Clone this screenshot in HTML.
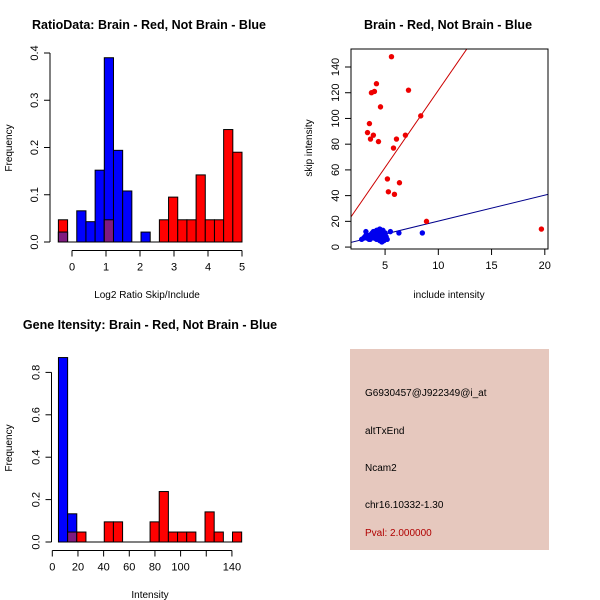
<!DOCTYPE html>
<html><head><meta charset="utf-8"><style>
body{margin:0;background:#fff}
svg{display:block;font-family:"Liberation Sans",Arial,sans-serif}
</style></head><body>
<svg id="s" width="600" height="600" xmlns="http://www.w3.org/2000/svg">
<rect width="600" height="600" fill="#fff"/>
<text x="149" y="29" text-anchor="middle" font-size="12.5" font-weight="bold">RatioData: Brain - Red, Not Brain - Blue</text>
<text x="448" y="29" text-anchor="middle" font-size="12.5" font-weight="bold">Brain - Red, Not Brain - Blue</text>
<text x="150" y="329" text-anchor="middle" font-size="12.5" font-weight="bold">Gene Itensity: Brain - Red, Not Brain - Blue</text>
<text x="147" y="298" text-anchor="middle" font-size="10">Log2 Ratio Skip/Include</text>
<text x="449" y="298" text-anchor="middle" font-size="10">include intensity</text>
<text x="150" y="598" text-anchor="middle" font-size="10">Intensity</text>
<text transform="translate(12,148) rotate(-90)" text-anchor="middle" font-size="10">Frequency</text>
<text transform="translate(312,148) rotate(-90)" text-anchor="middle" font-size="10">skip intensity</text>
<text transform="translate(12,448) rotate(-90)" text-anchor="middle" font-size="10">Frequency</text>
<g>
<rect x="350" y="349" width="199" height="201" fill="#e6c8be"/>
<text x="365" y="396" font-size="10">G6930457@J922349@i_at</text>
<text x="365" y="434" font-size="10">altTxEnd</text>
<text x="365" y="471" font-size="10">Ncam2</text>
<text x="365" y="508" font-size="10">chr16.10332-1.30</text>
<text x="365" y="536" font-size="10" fill="#b00000">Pval: 2.000000</text>
</g>
</svg>
<script>
// ratio histogram
const ratioBinStart=-0.4, ratioBinWidth=0.27;
const ratioRed=[0.047,0,0,0,0,0.047,0,0,0,0,0,0.047,0.095,0.047,0.047,0.142,0.047,0.047,0.238,0.19];
const ratioBlue=[0.021,0,0.066,0.043,0.152,0.39,0.194,0.108,0,0.021,0,0,0,0,0,0,0,0,0,0];
const ratioXTicks=[0,1,2,3,4,5];
const ratioYTicks=[0,0.1,0.2,0.3,0.4];
// intensity histogram
const intBinStart=4.8, intBinWidth=7.14;
const intRed=[0,0.047,0.047,0,0,0.095,0.095,0,0,0,0.095,0.238,0.047,0.047,0.047,0,0.142,0.047,0,0.047];
const intBlue=[0.87,0.133,0,0,0,0,0,0,0,0,0,0,0,0,0,0,0,0,0,0];
const intXTicks=[0,20,40,60,80,100,120,140];
const intXLabels=["0","20","40","60","80","100","","140"];
const intYTicks=[0,0.2,0.4,0.6,0.8];
// scatter
const redX=[5.6,4.19,3.72,4.0,4.57,7.2,3.53,8.35,3.35,3.9,3.63,4.38,6.07,6.91,5.79,5.22,6.35,5.31,5.88,8.89,19.68];
const redY=[148,127,120,121,109,122,96,102,89,87,84,82,84,87,77,53,50,43,41,20,14];
const blueX=[2.8,3.0,3.1,3.2,3.3,3.4,3.5,3.6,3.7,3.8,3.9,4.0,4.1,4.2,4.3,4.4,4.5,4.6,4.7,4.8,4.9,5.0,5.1,5.2,3.3,3.6,3.9,4.2,4.5,4.8,5.0,4.4,4.6,4.0,3.5,3.2,5.5,6.3,8.5,4.7,4.3,3.8];
const blueY=[6,7,8,12,7,9,8,6,10,11,8,9,12,13,10,8,14,12,7,9,5,11,8,6,9,7,12,6,5,13,10,11,8,7,6,9,12,11,11,4,13,10];
const scXTicks=[5,10,15,20];
const scYTicks=[0,20,40,60,80,100,120,140];
const redFit=[1.9,12.0], blueFit=[0.0,2.02];

const S=document.getElementById('s'),NS='http://www.w3.org/2000/svg';
function mk(t,a,p){const e=document.createElementNS(NS,t);for(const k in a)e.setAttribute(k,a[k]);(p||S).appendChild(e);return e;}

function hist(name,bs,bw,red,blue,sx,sy,xt,xl,yt,y0,xAxisY,yAxisX){
  const g=mk('g',{});
  
  
  for(let i=0;i<red.length;i++){
    const x1=sx(bs+i*bw),x2=sx(bs+(i+1)*bw);
    const r=red[i],b=blue[i],m=Math.min(r,b);
    if(r>0){const e=mk('rect',{x:x1,y:sy(r),width:x2-x1,height:sy(0)-sy(r),fill:'#ff0000',stroke:'#000','stroke-width':1},g);
      }
    if(b>0){const e=mk('rect',{x:x1,y:sy(b),width:x2-x1,height:sy(0)-sy(b),fill:'#0000ff',stroke:'#000','stroke-width':1},g);
      }
    if(m>0){const e=mk('rect',{x:x1,y:sy(m),width:x2-x1,height:sy(0)-sy(m),fill:'#7f1a80',stroke:'#000','stroke-width':1},g);
      }
  }
  mk('line',{x1:sx(bs),x2:sx(bs+red.length*bw),y1:sy(0),y2:sy(0),stroke:'#000'},g);
  mk('line',{x1:sx(xt[0]),x2:sx(xt[xt.length-1]),y1:xAxisY,y2:xAxisY,stroke:'#000'},g);
  xt.forEach((v,i)=>{mk('line',{x1:sx(v),x2:sx(v),y1:xAxisY,y2:xAxisY+6,stroke:'#000'},g);
    const t=mk('text',{x:sx(v),y:xAxisY+20,'text-anchor':'middle','font-size':11},g);t.textContent=xl[i];
    });
  mk('line',{x1:yAxisX,x2:yAxisX,y1:sy(yt[0]),y2:sy(yt[yt.length-1]),stroke:'#000'},g);
  yt.forEach(v=>{mk('line',{x1:yAxisX,x2:yAxisX-6,y1:sy(v),y2:sy(v),stroke:'#000'},g);
    const t=mk('text',{transform:`translate(${yAxisX-12},${sy(v)}) rotate(-90)`,'text-anchor':'middle','font-size':11},g);
    t.textContent=v.toFixed(1);});
}
hist('ratio-histogram',ratioBinStart,ratioBinWidth,ratioRed,ratioBlue,
  v=>72+v*34,v=>242-v*472.5,ratioXTicks,ratioXTicks.map(String),ratioYTicks,0,250.5,50);
hist('intensity-histogram',intBinStart,intBinWidth,intRed,intBlue,
  v=>52.3+v*1.283,v=>542-v*212,intXTicks,intXLabels,intYTicks,0,550.5,51.5);

// scatter
const g=mk('g',{});


const L=351,R=548,T=49,B=249,xmin=1.8,xmax=20.3,ymin=-1.5,ymax=154;
const sx=v=>L+(v-xmin)/(xmax-xmin)*(R-L), sy=v=>B-(v-ymin)/(ymax-ymin)*(B-T);
mk('defs',{},g).innerHTML='<clipPath id="cp"><rect x="351" y="49" width="197" height="200"/></clipPath>';
const lg=mk('g',{'clip-path':'url(#cp)'},g);
[[redFit,'#cc0000','red-fit-line'],[blueFit,'#00008b','blue-fit-line']].forEach(([f,c,n])=>{
  const e=mk('line',{x1:sx(xmin),y1:sy(f[0]+f[1]*xmin),x2:sx(xmax),y2:sy(f[0]+f[1]*xmax),stroke:c,'stroke-width':1},lg);
  });
blueX.forEach((x,i)=>{const e=mk('circle',{cx:sx(x),cy:sy(blueY[i]),r:2.7,fill:'#0000ee'},lg);
  });
redX.forEach((x,i)=>{const e=mk('circle',{cx:sx(x),cy:sy(redY[i]),r:2.7,fill:'#ee0000'},lg);
  });
mk('rect',{x:L,y:T,width:R-L,height:B-T,fill:'none',stroke:'#000'},g);
scXTicks.forEach(v=>{mk('line',{x1:sx(v),x2:sx(v),y1:B,y2:B+6,stroke:'#000'},g);
  const t=mk('text',{x:sx(v),y:B+20,'text-anchor':'middle','font-size':11},g);t.textContent=v;
  });
scYTicks.forEach(v=>{mk('line',{x1:L,x2:L-6,y1:sy(v),y2:sy(v),stroke:'#000'},g);
  const t=mk('text',{transform:`translate(${L-12},${sy(v)}) rotate(-90)`,'text-anchor':'middle','font-size':11},g);t.textContent=v;
  });
</script>
</body></html>
